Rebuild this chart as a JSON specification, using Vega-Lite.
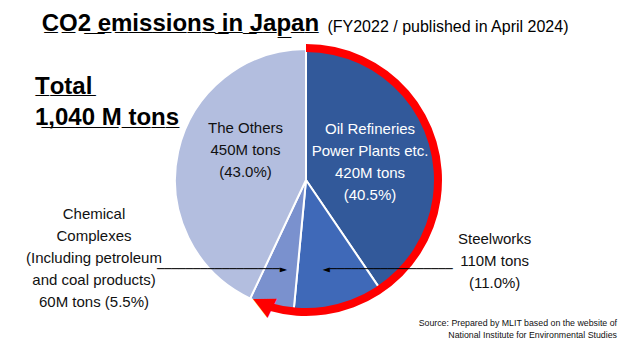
{
  "$schema": "https://vega.github.io/schema/vega-lite/v6.json",
  "width": 612,
  "height": 80,
  "autosize": {"type": "none"},
  "padding": {"left": 0, "right": 19, "top": 140, "bottom": 134},
  "background": "white",
  "config": {"view": {"stroke": null}},
  "title": {
    "text": ["\u200b\u00a0C\u0332O\u03322\u0332 \u0332e\u0332m\u0332i\u0332s\u0332s\u0332i\u0332o\u0332n\u0332s\u0332 \u0332i\u0332n\u0332 \u0332J\u0332a\u0332p\u0332a\u0332n\u0332", "\u200b", "T\u0332o\u0332t\u0332a\u0332l\u0332", "1\u0332,\u03320\u03324\u03320\u0332 \u0332M\u0332 \u0332t\u0332o\u0332n\u0332s\u0332"],
    "subtitle": "\u200b\u2003\u2003\u2003\u2003\u2003\u2003\u2003\u2003\u2003\u2003\u2003\u2003\u2003\u2003\u2003\u2003\u2003\u2003\u00a0(FY2022 / published in April 2024)",
    "anchor": "start",
    "frame": "group",
    "dx": 35,
    "offset": -86,
    "font": "Liberation Sans",
    "fontSize": 24,
    "fontWeight": "bold",
    "color": "#000000",
    "lineHeight": 31.5,
    "subtitleFont": "Liberation Sans",
    "subtitleFontSize": 16,
    "subtitleColor": "#000000",
    "subtitlePadding": -111
  },
  "data": {
    "values": [
      {"source": "Oil Refineries, Power Plants etc.", "mt": 420, "share": 40.5, "rank": 1, "label": "Oil Refineries\nPower Plants etc.\n420M tons\n(40.5%)"},
      {"source": "Steelworks", "mt": 110, "share": 11.0, "rank": 2, "label": "Steelworks\n110M tons\n(11.0%)"},
      {"source": "Chemical Complexes", "mt": 60, "share": 5.5, "rank": 3, "label": "Chemical\nComplexes\n(Including petroleum\nand coal products)\n60M tons (5.5%)"},
      {"source": "The Others", "mt": 450, "share": 43.0, "rank": 4, "label": "The Others\n450M tons\n(43.0%)"}
    ]
  },
  "layer": [
    {
      "mark": {"type": "arc", "outerRadius": 131, "stroke": "white", "strokeWidth": 2},
      "encoding": {
        "theta": {"field": "share", "type": "quantitative", "stack": true, "scale": {"domain": [0, 100]}},
        "order": {"field": "rank", "type": "quantitative"},
        "color": {
          "field": "source", "type": "nominal", "legend": null,
          "scale": {
            "domain": ["Oil Refineries, Power Plants etc.", "Steelworks", "Chemical Complexes", "The Others"],
            "range": ["#32599A", "#3F69B8", "#7A91CE", "#B3BEDF"]
          }
        }
      }
    },
    {
      "data": {"values": [{"arrow": "Oil + Steel + Chemical (57.0%)", "from_pct": 0, "to_pct": 54.5}]},
      "mark": {"type": "arc", "innerRadius": 128, "outerRadius": 136, "color": "#FF0000"},
      "encoding": {
        "theta": {"field": "from_pct", "type": "quantitative", "stack": null, "scale": {"domain": [0, 100]}},
        "theta2": {"field": "to_pct"}
      }
    },
    {
      "data": {"values": [{"arrow": "Oil + Steel + Chemical (57.0%)", "from_pct": 0, "to_pct": 54.5}]},
      "mark": {"type": "text", "text": "\u25b2", "radius": 132, "angle": 296, "fontSize": 28, "font": "DejaVu Sans", "color": "#FF0000", "align": "center", "baseline": "alphabetic"},
      "encoding": {
        "theta": {"field": "to_pct", "type": "quantitative", "stack": null, "scale": {"domain": [0, 100]}}
      }
    },
    {
      "mark": {"type": "text", "radius": 67, "dy": -31, "align": "center", "baseline": "middle", "lineBreak": "\n", "lineHeight": 22, "font": "Liberation Sans", "fontSize": 15, "color": "#FFFFFF"},
      "encoding": {
        "theta": {"field": "share", "type": "quantitative", "stack": true, "scale": {"domain": [0, 100]}},
        "order": {"field": "rank", "type": "quantitative"},
        "text": {"condition": {"test": "datum.rank === 1", "field": "label"}, "value": ""}
      }
    },
    {
      "mark": {"type": "text", "radius": 62, "dy": -38, "align": "center", "baseline": "middle", "lineBreak": "\n", "lineHeight": 22, "font": "Liberation Sans", "fontSize": 15, "color": "#111111"},
      "encoding": {
        "theta": {"field": "share", "type": "quantitative", "stack": true, "scale": {"domain": [0, 100]}},
        "order": {"field": "rank", "type": "quantitative"},
        "text": {"condition": {"test": "datum.rank === 4", "field": "label"}, "value": ""}
      }
    },
    {
      "mark": {"type": "text", "radius": 91, "dx": 166, "dy": -29, "align": "center", "baseline": "middle", "lineBreak": "\n", "lineHeight": 22, "font": "Liberation Sans", "fontSize": 15, "color": "#111111"},
      "encoding": {
        "theta": {"field": "share", "type": "quantitative", "stack": true, "scale": {"domain": [0, 100]}},
        "order": {"field": "rank", "type": "quantitative"},
        "text": {"condition": {"test": "datum.rank === 2", "field": "label"}, "value": ""}
      }
    },
    {
      "mark": {"type": "text", "radius": 91, "dx": -188, "dy": -54, "align": "center", "baseline": "middle", "lineBreak": "\n", "lineHeight": 22, "font": "Liberation Sans", "fontSize": 15, "color": "#111111"},
      "encoding": {
        "theta": {"field": "share", "type": "quantitative", "stack": true, "scale": {"domain": [0, 100]}},
        "order": {"field": "rank", "type": "quantitative"},
        "text": {"condition": {"test": "datum.rank === 3", "field": "label"}, "value": ""}
      }
    },
    {
      "mark": {"type": "text", "radius": 91, "dx": -6, "dy": 1, "align": "left", "baseline": "middle", "font": "DejaVu Sans Mono", "fontSize": 12, "color": "#000000"},
      "encoding": {
        "theta": {"field": "share", "type": "quantitative", "stack": true, "scale": {"domain": [0, 100]}},
        "order": {"field": "rank", "type": "quantitative"},
        "text": {"condition": {"test": "datum.rank === 2", "value": "\u25c4\u2500\u2500\u2500\u2500\u2500\u2500\u2500\u2500\u2500\u2500\u2500\u2500\u2500\u2500\u2500\u2500\u2500"}, "value": ""}
      }
    },
    {
      "mark": {"type": "text", "radius": 91, "dx": 5, "dy": 1, "align": "right", "baseline": "middle", "font": "DejaVu Sans Mono", "fontSize": 12, "color": "#000000"},
      "encoding": {
        "theta": {"field": "share", "type": "quantitative", "stack": true, "scale": {"domain": [0, 100]}},
        "order": {"field": "rank", "type": "quantitative"},
        "text": {"condition": {"test": "datum.rank === 3", "value": "\u2500\u2500\u2500\u2500\u2500\u2500\u2500\u2500\u2500\u2500\u2500\u2500\u2500\u2500\u2500\u2500\u2500\u25ba"}, "value": ""}
      }
    },
    {
      "data": {"values": [{"note": "Source: Prepared by MLIT based on the website of\nNational Institute for Environmental Studies"}]},
      "mark": {"type": "text", "align": "right", "baseline": "middle", "dx": 5, "dy": 103, "lineBreak": "\n", "lineHeight": 12, "font": "Liberation Sans", "fontSize": 8.8, "color": "#111111"},
      "encoding": {
        "x": {"value": "width"},
        "y": {"value": "height"},
        "text": {"field": "note", "type": "nominal"}
      }
    }
  ]
}
